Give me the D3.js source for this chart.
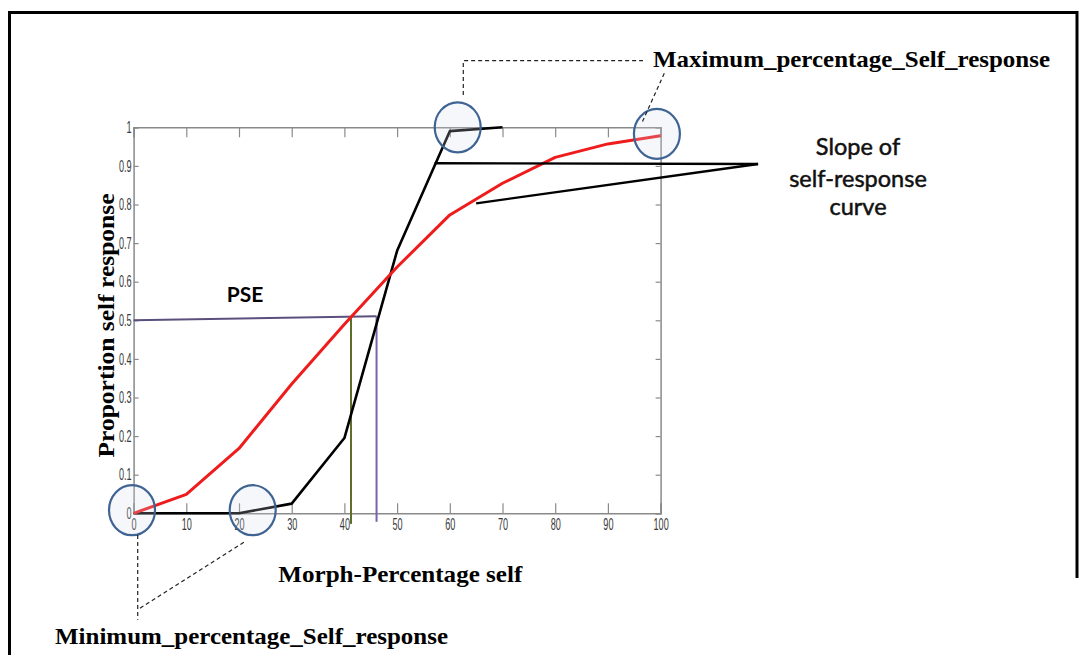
<!DOCTYPE html>
<html><head><meta charset="utf-8">
<script src="https://cdn.jsdelivr.net/npm/d3@7"></script>
<style>body{margin:0;background:#fff}svg{display:block}</style>
</head><body>
<svg id="c" width="1083" height="655"></svg>
<script>
// ---- data ----
const xTicks = [0,10,20,30,40,50,60,70,80,90,100];
const yTicks = [0,0.1,0.2,0.3,0.4,0.5,0.6,0.7,0.8,0.9,1];
const yTickLabels = ["0","0.1","0.2","0.3","0.4","0.5","0.6","0.7","0.8","0.9","1"];
const redX = [0,10,20,30,40,50,60,70,80,90,100];
const redY = [0,0.049,0.168,0.335,0.49,0.638,0.773,0.855,0.922,0.957,0.978];
const blackX = [0,10,20,30,40,50,60,70];
const blackY = [0,0,0,0.025,0.195,0.68,0.99,1.0];
const pseRed = 41.25, pseBlack = 46.1, pseLevel = 0.505;
const xLabel = "Morph-Percentage self";
const yLabel = "Proportion self response";
const maxLabel = "Maximum_percentage_Self_response";
const minLabel = "Minimum_percentage_Self_response";
const slopeLabel = ["Slope of","self-response","curve"];
const pseLabel = "PSE";
// annotation anchors in data units
const circleCenters = [[-0.3,0.008],[22.6,0.008],[61.5,1.0],[99.3,0.983]];
const slopeLines = [[[57.1,0.907],[118.5,0.905]],[[118.5,0.905],[65.0,0.803]]];
const maxLeader = [[[62.56,1.084],[62.56,1.1725],[96.65,1.1725]],[[100.7,1.14],[96.4,1.01]]];
const minLeader = [[[0.78,-0.056],[0.78,-0.276]],[[1.21,-0.246],[21.1,-0.0736]]];

// ---- scales ----
const svg = d3.select("#c");
const x = d3.scaleLinear().domain([0,100]).range([133.6,660.6]);
const y = d3.scaleLinear().domain([0,1]).range([513.3,127.3]);

// outer frame
svg.append("path").attr("d","M9.5,655 V12.5 H1077 V578")
  .attr("fill","none").attr("stroke","#000").attr("stroke-width",3);

const axisColor = "#8a8a8a";
const sx = 0.57;
function styleAxis(g){
  g.select(".domain").attr("stroke",axisColor).attr("stroke-width",1.5);
  g.selectAll(".tick line").attr("stroke",axisColor).attr("stroke-width",1.2);
}
// bottom axis
const gb = svg.append("g").attr("transform",`translate(0,${y(0)})`)
  .call(d3.axisBottom(x).tickValues(xTicks).tickSize(-10).tickPadding(5).tickFormat(d3.format("d")));
styleAxis(gb);
gb.selectAll(".tick text").attr("font-family","Liberation Sans, Arial").attr("font-size",16)
  .attr("fill","#3a3a3a").attr("transform",`scale(${sx},1)`);
// top axis
const gt = svg.append("g").attr("transform",`translate(0,${y(1)})`)
  .call(d3.axisTop(x).tickValues(xTicks).tickSize(-10).tickFormat(""));
styleAxis(gt);
// left axis
const gl = svg.append("g").attr("transform",`translate(${x(0)},0)`)
  .call(d3.axisLeft(y).tickValues(yTicks).tickSize(-5).tickPadding(2).tickFormat((d,i)=>yTickLabels[i]));
styleAxis(gl);
gl.selectAll(".tick text").attr("font-family","Liberation Sans, Arial").attr("font-size",16)
  .attr("fill","#3a3a3a").attr("x",-2/sx).attr("transform",`scale(${sx},1)`);
// right axis
const gr = svg.append("g").attr("transform",`translate(${x(100)},0)`)
  .call(d3.axisRight(y).tickValues(yTicks).tickSize(-5).tickFormat(""));
styleAxis(gr);

const line = d3.line().x(d=>x(d[0])).y(d=>y(d[1]));

// PSE guide lines
svg.append("path").attr("d",line([[0,0.500],[pseBlack,0.5104]]))
  .attr("stroke","#5b4f7d").attr("stroke-width",2).attr("fill","none");
svg.append("path").attr("d",line([[pseBlack,0.5104],[pseBlack,-0.022]]))
  .attr("stroke","#7a62a8").attr("stroke-width",2).attr("fill","none");
svg.append("path").attr("d",line([[pseRed,0.507],[pseRed,-0.0275]]))
  .attr("stroke","#5f6e2a").attr("stroke-width",2).attr("fill","none");

// curves
svg.append("path").attr("d",line(blackX.map((v,i)=>[v,blackY[i]])))
  .attr("stroke","#000").attr("stroke-width",2.6).attr("fill","none").attr("stroke-linejoin","round");
svg.append("path").attr("d",line(redX.map((v,i)=>[v,redY[i]])))
  .attr("stroke","#ee1c1c").attr("stroke-width",3).attr("fill","none").attr("stroke-linejoin","round");

// slope annotation lines
slopeLines.forEach(s=>svg.append("path").attr("d",line(s))
  .attr("stroke","#000").attr("stroke-width",2.4).attr("fill","none"));

// circles
svg.selectAll("ellipse.c").data(circleCenters).join("ellipse")
  .attr("cx",d=>x(d[0])).attr("cy",d=>y(d[1])).attr("rx",23).attr("ry",25)
  .attr("fill","rgba(210,220,238,0.22)").attr("stroke","#3f6494").attr("stroke-width",2.2);

// dashed leaders
[...maxLeader,...minLeader].forEach(s=>svg.append("path").attr("d",line(s))
  .attr("stroke","#222").attr("stroke-width",1.2).attr("stroke-dasharray","4,3").attr("fill","none"));

// texts
const serif = "Liberation Serif, Times New Roman, serif";
svg.append("text").text(maxLabel).attr("x",653).attr("y",67)
  .attr("font-family",serif).attr("font-weight","bold").attr("font-size",24)
  .attr("textLength",397).attr("lengthAdjust","spacingAndGlyphs");
svg.append("text").text(minLabel).attr("x",55).attr("y",644)
  .attr("font-family",serif).attr("font-weight","bold").attr("font-size",24)
  .attr("textLength",393).attr("lengthAdjust","spacingAndGlyphs");
svg.append("text").text(xLabel).attr("x",278.3).attr("y",582)
  .attr("font-family",serif).attr("font-weight","bold").attr("font-size",24)
  .attr("textLength",244).attr("lengthAdjust","spacingAndGlyphs");
svg.append("text").text(yLabel).attr("transform","translate(114,325.5) rotate(-90)")
  .attr("text-anchor","middle")
  .attr("font-family",serif).attr("font-weight","bold").attr("font-size",24)
  .attr("textLength",264).attr("lengthAdjust","spacingAndGlyphs");
svg.append("text").text(pseLabel).attr("x",245).attr("y",301.7).attr("text-anchor","middle")
  .attr("font-family","Lato, sans-serif").attr("font-weight","bold").attr("font-size",21);
const sy = [155,186.7,215];
slopeLabel.forEach((t,i)=>svg.append("text").text(t).attr("x",858).attr("y",sy[i])
  .attr("text-anchor","middle").attr("font-family","Lato, sans-serif").attr("font-size",23.5)
  .attr("fill","#111").attr("stroke","#111").attr("stroke-width",0.5));
</script>
</body></html>
